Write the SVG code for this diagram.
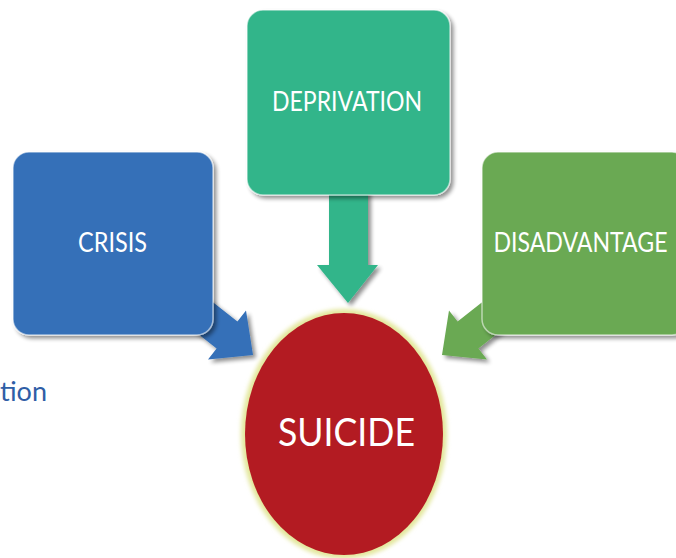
<svg xmlns="http://www.w3.org/2000/svg" width="676" height="558" viewBox="0 0 676 558">
  <defs>
    <filter id="sh" x="-20%" y="-20%" width="140%" height="140%">
      <feGaussianBlur in="SourceAlpha" stdDeviation="2"/>
      <feOffset dx="3" dy="3" result="b"/>
      <feComponentTransfer><feFuncA type="linear" slope="0.45"/></feComponentTransfer>
      <feMerge><feMergeNode/><feMergeNode in="SourceGraphic"/></feMerge>
    </filter>
    <filter id="glow" x="-20%" y="-20%" width="140%" height="140%">
      <feGaussianBlur stdDeviation="2"/>
    </filter>
  </defs>
  <style>
    .lbl { font-family: Lato, "Open Sans", "Liberation Sans", sans-serif; fill: #ffffff; text-anchor: middle; }
    .box { stroke: rgba(255,255,255,0.55); stroke-width: 1.5; }
  </style>
  <rect width="676" height="558" fill="#ffffff"/>
  <text x="47" y="401" font-family="Lato, 'Open Sans', sans-serif" font-size="26" fill="#2f5ea6" text-anchor="end" textLength="47" lengthAdjust="spacingAndGlyphs">tion</text>
  <g id="connectors">
    <polygon filter="url(#sh)" fill="#3470b8" points="169.6,311.4 190.4,284.6 237.4,321.6 246,310.5 253,355 208,359.5 216.6,348.4"/>
    <polygon filter="url(#sh)" fill="#6aa953" points="525.4,311.4 504.6,284.6 457.6,321.6 449,310.5 442,355 487,359.5 478.4,348.4"/>
    <polygon filter="url(#sh)" fill="#33b58a" points="329,180 368,180 368,265 378,265 348,303 317,265 329,265"/>
  </g>
  <g id="node-crisis">
    <rect class="box" filter="url(#sh)" x="13" y="152" width="200" height="183" rx="16" fill="#3470b8"/>
    <text class="lbl" x="112.5" y="252" font-size="27" textLength="69" lengthAdjust="spacingAndGlyphs">CRISIS</text>
  </g>
  <g id="node-deprivation">
    <rect class="box" filter="url(#sh)" x="247" y="10" width="203" height="185" rx="16" fill="#33b58a"/>
    <text class="lbl" x="347" y="111" font-size="27" textLength="150" lengthAdjust="spacingAndGlyphs">DEPRIVATION</text>
  </g>
  <g id="node-disadvantage">
    <rect class="box" filter="url(#sh)" x="482" y="152" width="206" height="183" rx="16" fill="#6aa953"/>
    <text class="lbl" x="580.5" y="252" font-size="27" textLength="174" lengthAdjust="spacingAndGlyphs">DISADVANTAGE</text>
  </g>
  <g id="node-suicide">
    <ellipse cx="344" cy="434" rx="103" ry="125" fill="#e3e79c" filter="url(#glow)"/>
    <ellipse cx="344" cy="434" rx="99" ry="121" fill="#b31b22"/>
    <text class="lbl" x="346.5" y="446" font-size="39" textLength="137" lengthAdjust="spacingAndGlyphs">SUICIDE</text>
  </g>
</svg>
